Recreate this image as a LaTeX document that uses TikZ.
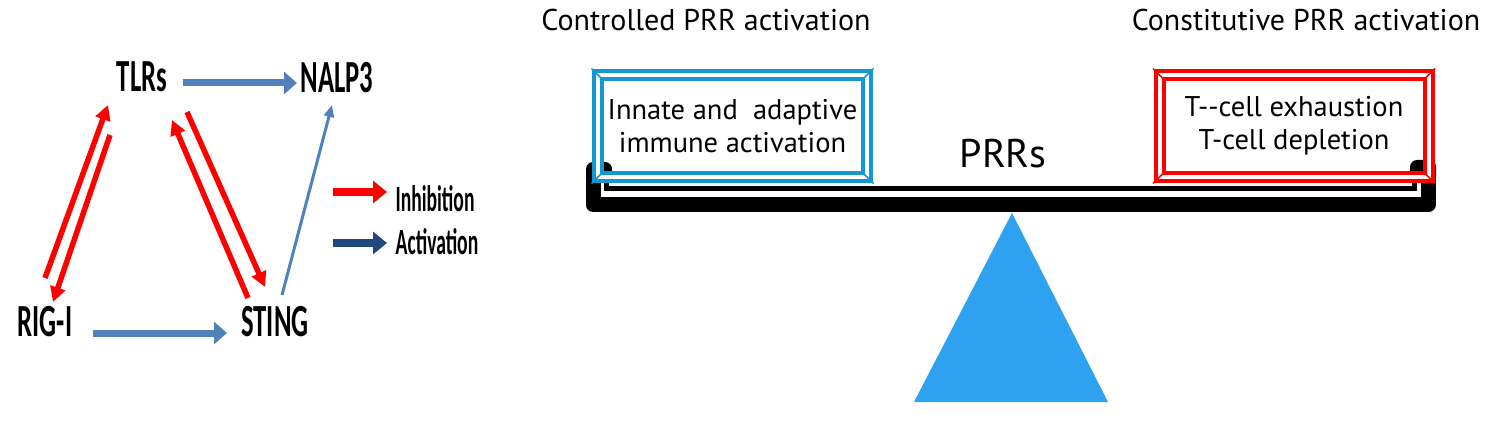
\documentclass[tikz,border=0pt]{standalone}
\usepackage{fontspec}
\setmainfont{PT Sans}
\newfontfamily\lblfont{Carlito}
\usetikzlibrary{arrows.meta,positioning}

\definecolor{actblue}{RGB}{79,129,189}
\definecolor{legblue}{RGB}{31,73,125}
\definecolor{inhred}{RGB}{255,0,0}
\definecolor{boxblue}{RGB}{20,152,212}
\definecolor{fulcrum}{RGB}{46,161,240}
\newcommand{\cnd}[2][0.58]{\scalebox{#1}[1]{#2}}

\begin{document}
\begin{tikzpicture}[x=1pt,y=-1pt]
		\tikzset{lbl/.style={font=\lblfont\bfseries\fontsize{46}{46}\selectfont,inner sep=0pt}};
		\tikzset{leg/.style={font=\lblfont\bfseries\fontsize{37}{37}\selectfont,inner sep=0pt}};
		\tikzset{act/.style={-{Triangle[length=13pt,width=22pt]},line width=7pt,color=actblue}};
		\tikzset{inh/.style={-{Triangle[length=15pt,width=15pt]},line width=5.5pt,color=inhred}};
		\tikzset{thinact/.style={-{Triangle[length=12pt,width=10pt]},line width=3pt,color=actblue}};
		\tikzset{legarrow/.style={-{Triangle[length=14pt,width=22pt]},line width=8pt}};
		\tikzset{frame/.style={draw=#1,double,double distance=4pt,line width=4pt,
				minimum width=269pt,minimum height=102pt,inner sep=0pt,align=center,
				font=\fontsize{28.5}{33}\selectfont}};
		\tikzset{title/.style={anchor=base,inner sep=0pt,font=\fontsize{30}{34}\selectfont}};
		
		\useasboundingbox (0,0) rectangle (1500,422);
		
		% network
		\node (tlr) at (142,77) [lbl]{\cnd{TLRs}};
		\node (nalp) at (337,78) [lbl]{\cnd{NALP3}};
		\node (rig) at (45,322) [lbl]{\cnd{RIG-I}};
		\node (sting) at (275,322) [lbl]{\cnd{STING}};
		
		\draw [act] ([shift={(41,6)}]tlr.center)--([shift={(-40,5)}]nalp.center);
		\draw [act] ([shift={(48,11)}]rig.center)--([shift={(-48,11)}]sting.center);
		\draw [thinact] ([shift={(7,-27)}]sting.center)--([shift={(-5,27)}]nalp.center);
		\draw [inh] ([shift={(0,-44)}]rig.center)--([shift={(-34,28)}]tlr.center);
		\draw [inh] ([shift={(-32,58)}]tlr.center)--([shift={(8,-20)}]rig.center);
		\draw [inh] ([shift={(-27,-24)}]sting.center)--([shift={(30,43)}]tlr.center);
		\draw [inh] ([shift={(45,35)}]tlr.center)--([shift={(-10,-35)}]sting.center);
		
		% legend
		\node (inhtxt) at (435,199) [leg]{\cnd[0.53]{Inhibition}};
		\node (acttxt) at (437,242) [leg]{\cnd[0.53]{Activation}};
		\coordinate (inhS) at (333,192);
		\coordinate (actS) at (333,243);
		\draw [legarrow,color=inhred] (inhS)--++(54,0);
		\draw [legarrow,color=legblue] (actS)--++(54,0);
		
		% balance
		\fill [fulcrum] (1012,213)--(1108,402)--(914,402)--cycle;
		\draw [line width=15pt,line join=round,line cap=round] (593,172)--(593,205)--(1428,205)--(1428,172);
		\draw [line width=5pt] (606,178)--(606,189)--(1414,189)--(1414,178);
		\fill [rounded corners=7pt] (586,162) rectangle (612,182);
		\fill [rounded corners=7pt] (1410,160) rectangle (1436,182);
		
		\node (ctl) at (706,31) [title]{Controlled PRR activation};
		\node (cst) at (1306,31) [title]{Constitutive PRR activation};
		
		\node (good) at (732.5,126) [frame=boxblue]{Innate and~ adaptive\\immune activation};
		\node (bad) at (1294,126) [frame=inhred]{T-{}-cell exhaustion\\T-cell depletion};
		\foreach \b/\c in {good/boxblue,bad/inhred}{
			\draw [\c,line width=1.5pt] ([shift={(-4.5,-4.5)}]\b.north west)--([shift={(5,5)}]\b.north west);
			\draw [\c,line width=1.5pt] ([shift={(4.5,-4.5)}]\b.north east)--([shift={(-5,5)}]\b.north east);
			\draw [\c,line width=1.5pt] ([shift={(-4.5,4.5)}]\b.south west)--([shift={(5,-5)}]\b.south west);
			\draw [\c,line width=1.5pt] ([shift={(4.5,4.5)}]\b.south east)--([shift={(-5,-5)}]\b.south east);
		}
		
		\node (prr) at (1003,154) [font=\fontsize{40}{40}\selectfont,inner sep=0pt]{PRRs};
\end{tikzpicture}
\end{document}
